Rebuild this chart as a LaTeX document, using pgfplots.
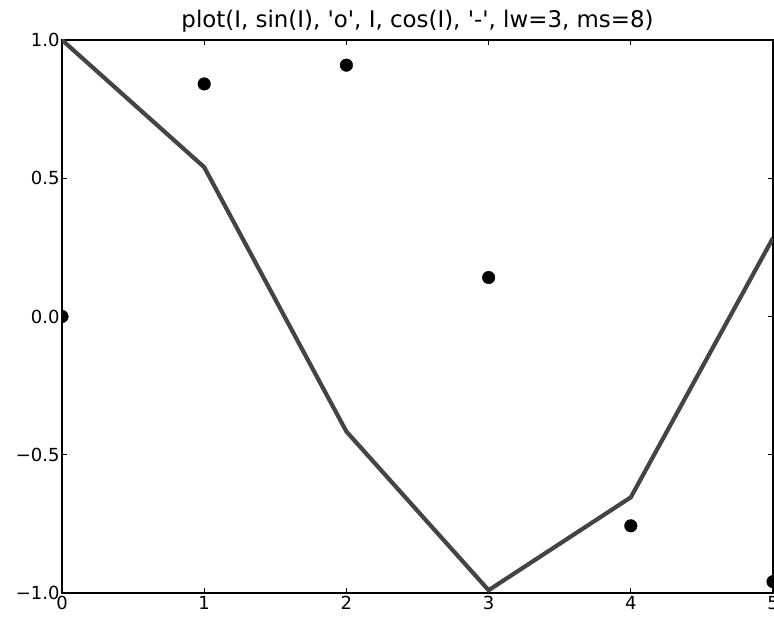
\documentclass[border=0pt]{standalone}
\usepackage{pgfplots}
\pgfplotsset{compat=1.18}
\usepackage{fontspec}
\setmainfont{DejaVu Sans}
\newfontfamily\plainfont{DejaVu Sans}
\definecolor{linegray}{HTML}{444444}
\begin{document}
\begin{tikzpicture}[x=1pt,y=1pt]
\begin{axis}[
  at={(62pt,24pt)}, anchor=south west,
  scale only axis, width=711pt, height=553pt,
  xmin=0, xmax=5, ymin=-1, ymax=1,
  xtick={0,1,2,3,4,5}, ytick={-1,-0.5,0,0.5,1},
  yticklabels={−1.0,−0.5,0.0,0.5,1.0},
  xticklabels={0,1,2,3,4,5},
  tick align=inside, major tick length=5pt,
  tick style={black, line width=0.8pt},
  axis line style={black, line width=1.5pt},
  ticklabel style={font=\plainfont\fontsize{18}{20}\selectfont},
  /pgf/number format/assume math mode=true,
  xticklabel style={yshift=0pt},
  yticklabel style={xshift=1pt},
  title={plot(I, sin(I), 'o', I, cos(I), '-', lw=3, ms=8)},
  title style={font=\plainfont\fontsize{22.9}{25}\selectfont, yshift=-2pt},
  clip marker paths=true,
]
\addplot[only marks, mark=*, mark size=6.3pt, black] coordinates {
(0,0) (1,0.841) (2,0.909) (3,0.141) (4,-0.757) (5,-0.959)};
\addplot[linegray, line width=4.2pt, line join=miter] coordinates {
(0,1) (1,0.540) (2,-0.416) (3,-0.990) (4,-0.654) (5,0.284)};
\end{axis}
\pgfresetboundingbox
\useasboundingbox (0,0) rectangle (774,617);
\end{tikzpicture}
\end{document}
